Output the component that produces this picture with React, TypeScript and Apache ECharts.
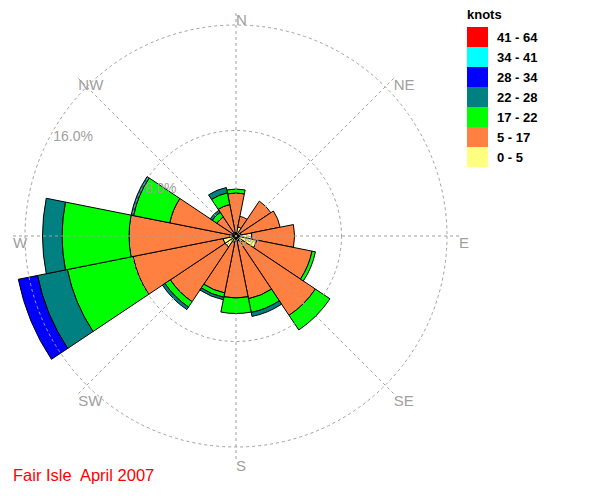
import React, { useEffect, useRef } from "react";
import * as echarts from "echarts";

// Wind directions (16 sectors, clockwise from North)
const directions = ["N", "NNE", "NE", "ENE", "E", "ESE", "SE", "SSE", "S", "SSW", "SW", "WSW", "W", "WNW", "NW", "NNW"];

// Speed classes (knots) and their colours
const speedBins = ["0 - 5", "5 - 17", "17 - 22", "22 - 28", "28 - 34", "34 - 41", "41 - 64"];
const binColors = ["#FFFF80", "#FF8040", "#00FF00", "#008080", "#0000FF", "#00FFFF", "#FF0000"];

// Frequencies (% of observations) per direction for each speed class
const kt0_5 = [0.3, 0.7, 0.4, 0.4, 1.2, 1.6, 0.6, 0.4, 0.4, 0.5, 1.0, 1.0, 0.5, 0.3, 0.3, 0.3];
const kt5_17 = [2.96, 0.82, 2.78, 3.01, 3.24, 4.28, 6.64, 4.45, 4.3, 3.9, 4.99, 6.96, 7.61, 4.82, 1.44, 2.13];
const kt17_22 = [0.3, 0, 0, 0, 0, 0.26, 1.33, 1.06, 1.18, 0.34, 0.49, 5.08, 5.08, 2.8, 0.42, 0.91];
const kt22_28 = [0, 0, 0, 0, 0, 0, 0, 0.31, 0, 0.19, 0.23, 2.31, 1.48, 0.19, 0.19, 0.41];
const kt28_34 = [0, 0, 0, 0, 0, 0, 0, 0, 0, 0, 0, 1.48, 0, 0, 0, 0];
const kt34_41 = [0, 0, 0, 0, 0, 0, 0, 0, 0, 0, 0, 0, 0, 0, 0, 0];
const kt41_64 = [0, 0, 0, 0, 0, 0, 0, 0, 0, 0, 0, 0, 0, 0, 0, 0];
const binValues = [kt0_5, kt5_17, kt17_22, kt22_28, kt28_34, kt34_41, kt41_64];

// Rings and labels
const ringMax = 16;
const ringInterval = 8;
const ringLabels = ["0%", "8.0%", "16.0%"];
const ringValues = [0, 8, 16];
const compassLabels = ["N", "NE", "E", "SE", "S", "SW", "W", "NW"];
const compassAngles = [0, 45, 90, 135, 180, 225, 270, 315];

const chartTitle = "Fair Isle  April 2007";
const legendTitle = "knots";

const FONT = "'Liberation Sans', Arial, sans-serif";
const GRID = "#a0a0a0";

export default function App() {
  const ref = useRef<HTMLDivElement>(null);

  useEffect(() => {
    document.body.style.margin = "0";
    if (!ref.current) return;
    const chart = echarts.init(ref.current, undefined, { renderer: "svg" });

    const cx = 236;
    const cy = 236;
    const R = 211;
    const RL = 223;

    const pt = (r: number, deg: number) => {
      const a = (deg * Math.PI) / 180;
      return [cx + r * Math.sin(a), cy - r * Math.cos(a)];
    };

    const graphics: any[] = [];
    compassLabels.forEach((t, i) => {
      const [x, y] = pt(RL, compassAngles[i]);
      graphics.push({
        type: "text",
        x,
        y: y - 1,
        z: 100,
        style: { text: t, fill: GRID, font: `15px ${FONT}`, textAlign: "left", textVerticalAlign: "top" },
      });
    });
    ringLabels.forEach((t, i) => {
      const r = (ringValues[i] / ringMax) * R;
      const [x, y] = pt(r, 300);
      graphics.push({
        type: "text",
        x: i === 0 ? x + 3 : x,
        y: y - 2,
        z: 100,
        style: { text: t, fill: GRID, font: `14px ${FONT}`, textAlign: "left", textVerticalAlign: "top" },
      });
    });
    graphics.push({
      type: "text",
      x: 467,
      y: 8,
      z: 100,
      style: { text: legendTitle, fill: "#000", font: `bold 13px ${FONT}`, textAlign: "left", textVerticalAlign: "top" },
    });
    graphics.push({
      type: "text",
      x: 13,
      y: 466,
      z: 100,
      style: { text: chartTitle, fill: "#FF0000", font: `16.5px ${FONT}`, textAlign: "left", textVerticalAlign: "top" },
    });

    const dashed = { color: GRID, type: [3, 3] as any, width: 1 };

    chart.setOption({
      animation: false,
      backgroundColor: "#ffffff",
      polar: [
        { center: [cx, cy], radius: R },
        { center: [cx, cy], radius: RL },
      ],
      angleAxis: [
        {
          polarIndex: 0,
          type: "category",
          data: directions,
          startAngle: 90 + 360 / 32,
          clockwise: true,
          boundaryGap: true,
          axisLine: { show: false },
          axisTick: { show: false },
          axisLabel: { show: false },
          splitLine: { show: false },
        },
        {
          polarIndex: 1,
          type: "value",
          min: 0,
          max: 360,
          interval: 45,
          startAngle: 90,
          clockwise: true,
          z: 10,
          axisLine: { show: false },
          axisTick: { show: false },
          axisLabel: { show: false },
          splitLine: { show: true, lineStyle: dashed },
        },
      ],
      radiusAxis: [
        {
          polarIndex: 0,
          type: "value",
          min: 0,
          max: ringMax,
          interval: ringInterval,
          z: 10,
          axisLine: { show: false },
          axisTick: { show: false },
          axisLabel: { show: false },
          splitLine: { show: true, lineStyle: dashed },
        },
        {
          polarIndex: 1,
          type: "value",
          min: 0,
          max: 1,
          axisLine: { show: false },
          axisTick: { show: false },
          axisLabel: { show: false },
          splitLine: { show: false },
        },
      ],
      legend: {
        orient: "vertical",
        left: 467,
        top: 27,
        padding: 0,
        itemWidth: 21,
        itemHeight: 20,
        itemGap: 0,
        icon: "rect",
        selectedMode: false,
        data: speedBins.slice().reverse(),
        itemStyle: { borderWidth: 0 },
        textStyle: { fontSize: 13, fontWeight: "bold", color: "#000", fontFamily: FONT, padding: [0, 0, 0, 4] },
      },
      graphic: graphics,
      series: speedBins.map((name, i) => ({
        type: "bar",
        name,
        coordinateSystem: "polar",
        polarIndex: 0,
        stack: "wind",
        barCategoryGap: "0%",
        clip: false,
        data: binValues[i].map((v) => (v > 0 ? v : null)),
        itemStyle: { color: binColors[i], borderColor: "#000", borderWidth: 1 },
        emphasis: { disabled: true },
      })),
    });

    return () => chart.dispose();
  }, []);

  return <div ref={ref} style={{ width: 608, height: 496 }} />;
}
